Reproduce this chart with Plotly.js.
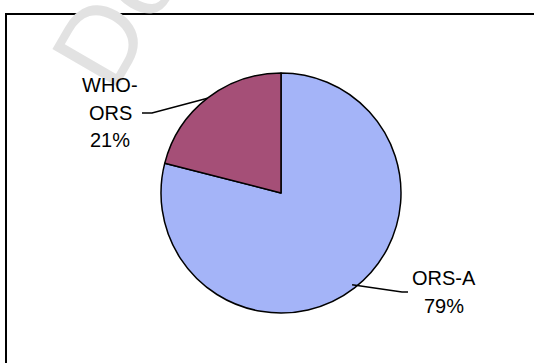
<!DOCTYPE html>
<html>
<head>
<meta charset="utf-8">
<script src="https://cdn.plot.ly/plotly-3.0.1.min.js"></script>
<style>
html,body{margin:0;padding:0;background:#fff;}
#chart{width:534px;height:363px;}
</style>
</head>
<body>
<div id="chart"></div>
<script>
// Data (drawn clockwise from 12 o'clock)
var labels = ['ORS-A', 'WHO-ORS'];
var values = [79, 21];
var labelLines = [['ORS-A'], ['WHO-', 'ORS']];
var colors = ['#a4b4f8', '#a54f77'];

var W = 534, H = 363;
var cx = 281, cy = 193, R = 120;
function px(x) { return x / W; }
function py(y) { return 1 - y / H; }

var total = values.reduce(function (a, b) { return a + b; }, 0);
var pct = values.map(function (v) { return Math.round(v / total * 100) + '%'; });

// label layout (pixel positions for text blocks and leader-line elbows)
var labelPos = [
  { x: 444, y: 277.5, dy: 28.3, elbow: [402, 292], end: [408, 292], r: 116 },
  { x: 110, y: 85, dy: 27.7, elbow: [152, 113], end: [142, 113], r: 120 }
];

var annotations = [];
var shapes = [];
var cum = 0;
values.forEach(function (v, i) {
  var mid = (cum + v / 2) / total; // fraction, clockwise from top
  cum += v;
  var ang = mid * 2 * Math.PI;
  var lp = labelPos[i];
  var ex = cx + Math.sin(ang) * lp.r;
  var ey = cy - Math.cos(ang) * lp.r;
  var lines = labelLines[i].concat([pct[i]]);
  lines.forEach(function (t, k) {
    annotations.push({
      xref: 'paper', yref: 'paper',
      x: px(lp.x), y: py(lp.y + k * lp.dy),
      xanchor: 'center', yanchor: 'middle',
      text: t, showarrow: false,
      font: { family: 'Liberation Sans, Arial, sans-serif', size: 20, color: '#000' }
    });
  });
  shapes.push({
    type: 'path', xref: 'paper', yref: 'paper',
    path: 'M' + px(ex) + ',' + py(ey) + ' L' + px(lp.elbow[0]) + ',' + py(lp.elbow[1]) +
          ' L' + px(lp.end[0]) + ',' + py(lp.end[1]),
    line: { color: '#000', width: 1.5 }
  });
});

// watermark
annotations.unshift({
  xref: 'paper', yref: 'paper', x: px(227), y: py(-178),
  xanchor: 'center', yanchor: 'middle', showarrow: false,
  text: 'Do not copy', textangle: -60,
  font: { family: 'Liberation Sans, Arial, sans-serif', size: 110, color: '#e2e2e2' }
});

// chart border
shapes.push({
  type: 'rect', xref: 'paper', yref: 'paper',
  x0: px(6), x1: px(560), y0: py(400), y1: py(14),
  line: { color: '#000', width: 2 }
});

var data = [{
  type: 'pie',
  labels: labels,
  values: values,
  sort: false,
  direction: 'clockwise',
  rotation: 0,
  textinfo: 'none',
  hoverinfo: 'label+percent',
  marker: { colors: colors, line: { color: '#000', width: 1.5 } },
  domain: { x: [px(cx - R), px(cx + R)], y: [py(cy + R), py(cy - R)] },
  showlegend: false
}];

var layout = {
  width: W, height: H,
  margin: { l: 0, r: 0, t: 0, b: 0 },
  paper_bgcolor: '#fff',
  showlegend: false,
  annotations: annotations,
  shapes: shapes
};

Plotly.newPlot('chart', data, layout, { staticPlot: true, displayModeBar: false });
</script>
</body>
</html>
